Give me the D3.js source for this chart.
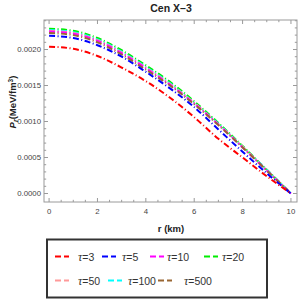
<!DOCTYPE html>
<html><head><meta charset="utf-8">
<script src="https://cdn.jsdelivr.net/npm/d3@7"></script>
<style>body{margin:0;background:#fff}svg{display:block}</style>
</head><body>
<script>
const rValues = [0,1,2,3,4,5,6,7,8,9,10];
const tau3   = [0.00204,0.00201,0.00191,0.00175,0.00156,0.00133,0.00106,0.00076,0.00050,0.00024,0];
const tau5   = [0.00219,0.00216,0.00206,0.00190,0.00169,0.00146,0.00120,0.00089,0.00058,0.00028,0];
const tau10  = [0.00225,0.00222,0.00212,0.00195,0.00174,0.00151,0.00125,0.00096,0.00064,0.00032,0];
const tau20  = [0.00229,0.00226,0.00216,0.00199,0.00178,0.00155,0.00128,0.00098,0.00066,0.00033,0];
const tau50  = [0.00226,0.00223,0.00213,0.00196,0.00175,0.00152,0.00126,0.00096,0.00065,0.00032,0];
const tau100 = [0.00227,0.00224,0.00214,0.00197,0.00176,0.00153,0.00126,0.00097,0.00065,0.00033,0];
const tau500 = [0.00223,0.00220,0.00210,0.00193,0.00172,0.00150,0.00124,0.00095,0.00064,0.00032,0];
const tauLabels = ["3","5","10","20","50","100","500"];
const seriesValues = [tau3,tau5,tau10,tau20,tau50,tau100,tau500];
const seriesColors = ["#ff0000","#0000ff","#ff00ff","#00ee00","#ff9999","#00ffff","#996633"];
const xTicks = [0,2,4,6,8,10];
const yTicks = [0,0.0005,0.0010,0.0015,0.0020];
const yTickLabels = ["0.0000","0.0005","0.0010","0.0015","0.0020"];
const title = "Cen X\u20133";

const W=300,H=300;
const svg=d3.select("body").append("svg").attr("width",W).attr("height",H);
const L=44,R=297,T=20,B=202;
const x=d3.scaleLinear().domain([-0.21,10.25]).range([L,R]);
const y=d3.scaleLinear().domain([-0.000118,0.00241]).range([B,T]);
const frameColor="#9a9a9a";
const sans="Liberation Sans, Arial, sans-serif";

const order=[3,5,4,2,6,1,0];
const line=d3.line().x((d,i)=>x(rValues[i])).y(d=>y(d)).curve(d3.curveMonotoneX);
const gLines=svg.append("g");
order.forEach(k=>{
  gLines.append("path").datum(seriesValues[k]).attr("d",line)
    .attr("fill","none").attr("stroke",seriesColors[k]).attr("stroke-width",2)
    .attr("stroke-dasharray","6,2.5,1,2.5");
});

svg.append("rect").attr("x",L).attr("y",T).attr("width",R-L).attr("height",B-T)
  .attr("fill","none").attr("stroke",frameColor).attr("stroke-width",1);

const tg=svg.append("g").attr("stroke",frameColor).attr("stroke-width",1);
d3.range(0,10.01,0.5).forEach(v=>{
  const major=Math.abs(v%2)<1e-9, len=major?4:2.2, px=x(v);
  tg.append("line").attr("x1",px).attr("x2",px).attr("y1",B).attr("y2",B-len);
  tg.append("line").attr("x1",px).attr("x2",px).attr("y1",T).attr("y2",T+len);
});
d3.range(0,0.00241,0.0001).forEach(v=>{
  const major=Math.abs(Math.round(v*10000)%5)===0, len=major?4:2.2, py=y(v);
  tg.append("line").attr("y1",py).attr("y2",py).attr("x1",L).attr("x2",L+len);
  tg.append("line").attr("y1",py).attr("y2",py).attr("x1",R).attr("x2",R-len);
});

const lab=svg.append("g").attr("font-family",sans).attr("font-size",7.8).attr("fill","#444");
xTicks.forEach(v=>lab.append("text").attr("x",x(v)).attr("y",214).attr("text-anchor","middle").text(v));
yTicks.forEach((v,i)=>lab.append("text").attr("x",41).attr("y",y(v)+2.8).attr("text-anchor","end").text(yTickLabels[i]));

svg.append("text").attr("x",171).attr("y",12).attr("text-anchor","middle")
  .attr("font-family",sans).attr("font-weight","bold").attr("font-size",10.5).attr("fill","#222").text(title);
svg.append("text").attr("x",171).attr("y",232).attr("text-anchor","middle")
  .attr("font-family",sans).attr("font-weight","bold").attr("font-size",9.5).attr("fill","#222").text("r (km)");
const yl=svg.append("text").attr("transform","translate(16,102) rotate(-90)").attr("text-anchor","middle")
  .attr("font-family",sans).attr("font-weight","bold").attr("font-size",9.5).attr("fill","#222");
yl.append("tspan").attr("font-style","italic").text("P");
yl.append("tspan").attr("font-style","italic").attr("font-size",7).attr("dy",2).text("r");
yl.append("tspan").attr("dy",-2).text("(MeV/fm");
yl.append("tspan").attr("font-size",6.5).attr("dy",-3.5).text("3");
yl.append("tspan").attr("dy",3.5).text(")");

svg.append("rect").attr("x",47).attr("y",239.5).attr("width",220).attr("height",58)
  .attr("fill","#fff").attr("stroke","#333").attr("stroke-width",2);
const legSample=[[55,256.5],[102,256.5],[150,256.5],[204,256.5],[55,280.5],[108,280.5],[158,280.5]];
const legText=[78,122,167,222,78,128,184];
const lg=svg.append("g");
tauLabels.forEach((n,i)=>{
  const [lx,ly]=legSample[i];
  lg.append("line").attr("x1",lx).attr("x2",lx+14).attr("y1",ly).attr("y2",ly)
    .attr("stroke",seriesColors[i]).attr("stroke-width",2).attr("stroke-dasharray","6,3,5,20");
  const t=lg.append("text").attr("x",legText[i]).attr("y",ly+4).attr("font-family",sans)
    .attr("font-size",10.5).attr("fill","#333");
  t.append("tspan").attr("font-family","Liberation Serif, Times New Roman, serif").attr("font-style","italic").attr("font-size",12).text("τ");
  t.append("tspan").text("="+n);
});
</script>
</body></html>
